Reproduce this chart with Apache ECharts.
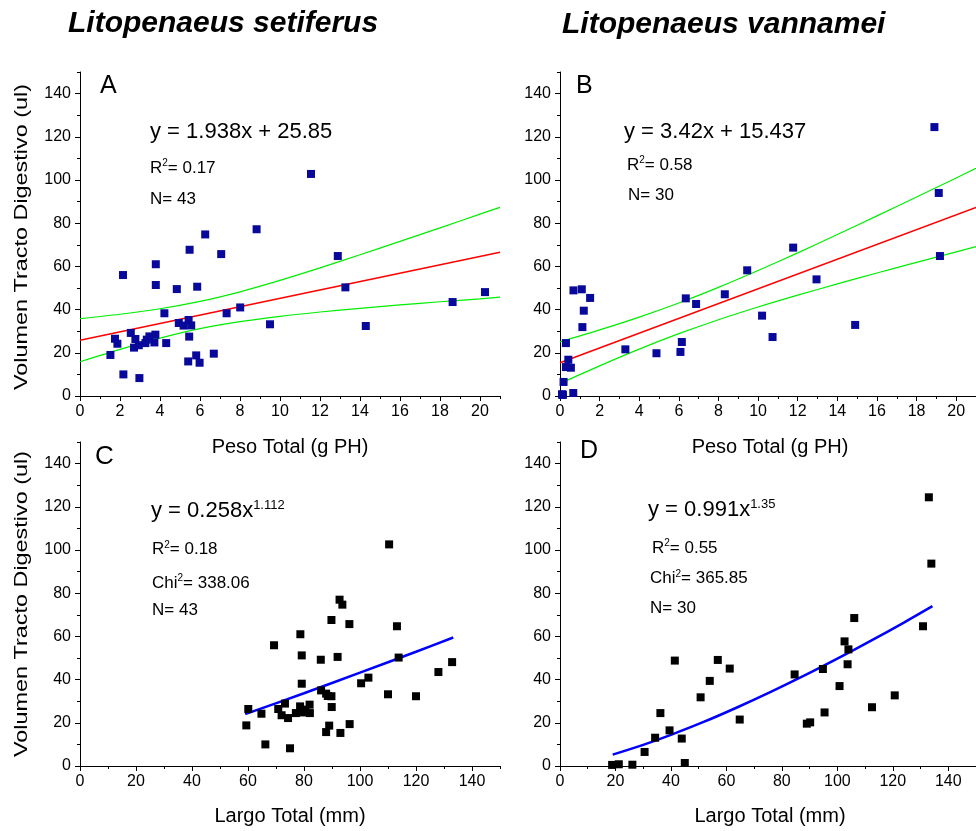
<!DOCTYPE html>
<html>
<head>
<meta charset="utf-8">
<script src="https://cdn.jsdelivr.net/npm/echarts@6/dist/echarts.min.js"></script>
<style>html,body{margin:0;padding:0;background:#fff}#c{width:976px;height:831px}</style>
</head>
<body>
<div id="c"></div>
<script>
// ---------- data ----------
// Panel A: L. setiferus, Peso Total (g PH) vs Volumen (ul)
const aX = [1.52,1.75,1.87,2.15,2.17,2.54,2.70,2.77,2.94,2.97,3.27,3.34,3.47,3.72,3.77,3.79,3.79,4.22,4.31,4.84,4.94,5.18,5.43,5.56,5.46,5.41,5.48,5.81,5.86,5.98,6.26,6.69,7.06,7.33,8.01,8.83,9.50,11.55,12.89,13.27,14.29,18.63,20.25];
const aY = [19.0,26.5,24.2,56.0,10.0,29.2,22.4,26.4,23.5,8.3,24.5,26.1,27.6,24.8,28.4,61.0,51.4,38.3,24.5,49.5,33.8,32.6,35.2,32.7,27.5,16.0,67.7,18.8,50.6,15.4,74.8,19.6,65.7,38.3,41.0,77.2,33.2,102.8,64.8,50.3,32.4,43.5,48.1];
const aFitX = [0,21];
const aFitY = [25.85,66.55];
const aBandX = [0,2,4,6,8,10,12,14,16,18,20,21];
const aUpper = [35.85,37.86,40.39,43.8,48.24,53.53,59.3,65.38,71.56,77.83,84.2,87.35];
const aLower = [15.85,21.6,26.8,31.2,34.46,36.9,38.9,40.58,42.16,43.63,45.0,45.75];

// Panel B: L. vannamei, Peso Total (g PH) vs Volumen (ul)
const bX = [0.10,0.12,0.15,0.18,0.30,0.42,0.30,0.55,0.67,0.68,1.10,1.20,1.13,1.52,3.30,4.87,6.08,6.15,6.35,6.87,8.32,9.45,10.20,10.73,11.77,12.95,14.90,18.90,19.12,19.18];
const bY = [0.8,0.5,0.6,6.5,24.5,16.8,13.4,13.1,1.4,48.9,49.4,39.5,31.9,45.4,21.6,19.8,20.4,25.0,45.2,42.6,47.1,58.2,37.2,27.3,68.7,54.0,32.9,124.5,94.0,64.8];
const bFitX = [0,21];
const bFitY = [15.44,87.26];
const bBandX = [0,2,4,6,8,10,12,14,16,18,20,21];
const bUpper = [25.09,30.6,36.54,43.07,50.28,58.07,66.28,74.75,83.39,92.14,100.96,105.39];
const bLower = [5.79,13.96,21.7,28.85,35.32,41.21,46.68,51.89,56.93,61.86,66.72,69.13];

// Panel C: L. setiferus, Largo Total (mm) vs Volumen (ul)
const cX = [59.4,60.1,64.8,66.2,69.3,70.8,72.0,73.2,74.3,75.0,77.1,78.6,78.7,79.2,79.2,79.3,80.5,82.0,82.1,86.0,86.1,87.9,87.9,88.5,89.0,89.8,89.8,89.9,92.0,92.7,93.7,93.0,96.2,96.3,100.4,103.0,110.0,110.4,113.2,113.8,120.0,128.0,132.9];
const cY = [18.8,26.4,24.2,10.0,55.9,26.4,23.5,28.9,22.2,8.2,24.5,27.6,61.0,51.2,38.1,24.8,26.1,28.4,24.5,49.2,35.0,33.5,15.7,32.4,18.7,67.6,32.3,27.3,50.5,77.0,74.7,15.3,65.7,19.4,38.3,40.9,33.2,102.6,64.7,50.2,32.3,43.5,48.1];
const cFitX = [59,80,100,120,133.3];
const cFitY = [24.0,33.7,43.2,52.9,59.5];

// Panel D: L. vannamei, Largo Total (mm) vs Volumen (ul)
const dX = [18.8,21.2,26.1,30.5,34.3,36.2,39.5,41.4,43.9,45.0,50.7,54.0,56.9,61.2,64.8,84.6,89.0,90.2,94.8,95.4,100.8,102.6,104.0,103.7,106.1,112.5,120.7,130.9,133.0,133.9];
const dY = [0.5,0.8,0.6,6.5,13.1,24.5,16.5,48.8,12.7,1.4,31.8,39.4,49.1,45.1,21.5,42.4,19.6,20.2,44.9,24.8,37.0,57.7,54.0,47.1,68.5,27.2,32.7,64.7,124.4,93.7];
const dFitX = [19,30,40,52,64,76,88,100,112,124,134.3];
const dFitY = [5.27,9.78,14.42,20.5,27.2,34.3,41.8,49.7,57.9,66.4,74.0];

// tick labels
const weightTicks = [0,2,4,6,8,10,12,14,16,18,20];
const weightMinor = [1,3,5,7,9,11,13,15,17,19,21];
const lengthTicks = [0,20,40,60,80,100,120,140];
const lengthMinor = [10,30,50,70,90,110,130,150];
const volTicks = [0,20,40,60,80,100,120,140];
const volMinor = [10,30,50,70,90,110,130,150];

// ---------- chart ----------
const FONT = 'Liberation Sans, Arial, sans-serif';
const zip = (xs, ys) => xs.map((x, i) => [x, ys[i]]);
const chart = echarts.init(document.getElementById('c'), null, {renderer: 'canvas'});

const rects = [
  {left: 80, top: 72, width: 420, height: 324},
  {left: 560, top: 72, width: 420, height: 324},
  {left: 80, top: 442, width: 420, height: 324},
  {left: 560, top: 442, width: 420, height: 324}
];
const grids = rects.concat(rects).map(r => Object.assign({containLabel: false}, r));
const xMax = [21, 21, 150, 150];
const xMajor = [weightTicks, weightTicks, lengthTicks, lengthTicks];
const xMinor = [weightMinor, weightMinor, lengthMinor, lengthMinor];

const xAxes = [], yAxes = [];
for (let i = 0; i < 4; i++) {
  xAxes.push({
    gridIndex: i, type: 'value', min: 0, max: xMax[i],
    axisLine: {show: true, onZero: false, lineStyle: {color: '#000', width: 1}},
    axisTick: {show: true, customValues: xMajor[i], length: 5, lineStyle: {color: '#000'}},
    axisLabel: {show: true, customValues: xMajor[i], fontSize: 16, color: '#000', fontFamily: FONT, margin: 8},
    splitLine: {show: false}
  });
  yAxes.push({
    gridIndex: i, type: 'value', min: 0, max: 150,
    axisLine: {show: true, onZero: false, lineStyle: {color: '#000', width: 1}},
    axisTick: {show: true, customValues: volTicks, length: 5, lineStyle: {color: '#000'}},
    axisLabel: {show: true, customValues: volTicks, fontSize: 16, color: '#000', fontFamily: FONT, margin: 9},
    splitLine: {show: false}
  });
}
for (let i = 0; i < 4; i++) {
  xAxes.push({
    gridIndex: i + 4, type: 'value', min: 0, max: xMax[i],
    axisLine: {show: false},
    axisTick: {show: true, customValues: xMinor[i], length: 3, lineStyle: {color: '#000'}},
    axisLabel: {show: false}, splitLine: {show: false}
  });
  yAxes.push({
    gridIndex: i + 4, type: 'value', min: 0, max: 150,
    axisLine: {show: false},
    axisTick: {show: true, customValues: volMinor, length: 3, lineStyle: {color: '#000'}},
    axisLabel: {show: false}, splitLine: {show: false}
  });
}

function line(idx, xs, ys, color, width, smooth) {
  return {type: 'line', xAxisIndex: idx, yAxisIndex: idx, data: zip(xs, ys), symbol: 'none',
    smooth: smooth ? 0.3 : false, lineStyle: {color: color, width: width}, silent: true, z: 2, clip: true};
}
function scat(idx, xs, ys, color) {
  return {type: 'scatter', xAxisIndex: idx, yAxisIndex: idx, data: zip(xs, ys), symbol: 'rect',
    symbolSize: 8, itemStyle: {color: color, opacity: 1}, silent: true, z: 3, clip: false};
}
const NAVY = '#08089a';
const series = [
  line(0, aBandX, aUpper, '#00ee00', 1.2, true),
  line(0, aBandX, aLower, '#00ee00', 1.2, true),
  line(0, aFitX, aFitY, '#ff0000', 1.6, false),
  scat(0, aX, aY, NAVY),
  line(1, bBandX, bUpper, '#00ee00', 1.2, true),
  line(1, bBandX, bLower, '#00ee00', 1.2, true),
  line(1, bFitX, bFitY, '#ff0000', 1.6, false),
  scat(1, bX, bY, NAVY),
  scat(2, cX, cY, '#000000'),
  line(2, cFitX, cFitY, '#0000ff', 2.5, true),
  scat(3, dX, dY, '#000000'),
  line(3, dFitX, dFitY, '#0000ff', 2.5, true)
];

function txt(x, y, text, size) {
  return {type: 'text', x: x, y: y, silent: true, z: 100,
    style: {text: text, fontSize: size, fontFamily: FONT, fill: '#000',
      align: 'left', verticalAlign: 'middle', textAlign: 'left', textVerticalAlign: 'middle'}};
}
function sup(x, y, text, size, supSize) {
  return {type: 'text', x: x, y: y, silent: true, z: 100,
    style: {text: text, fontSize: size, fontFamily: FONT, fill: '#000', align: 'left', verticalAlign: 'middle',
      textAlign: 'left', textVerticalAlign: 'middle',
      rich: {
        b: {fontSize: size, fontFamily: FONT, fill: '#000', lineHeight: size + 2},
        s: {fontSize: supSize, fontFamily: FONT, fill: '#000', verticalAlign: 'top', lineHeight: supSize + 1}
      }}};
}
function yname(x, y) {
  return {type: 'text', x: x, y: y, rotation: Math.PI / 2, scaleX: 1.3, silent: true, z: 100,
    style: {text: 'Volumen Tracto Digestivo (ul)', fontSize: 18, fontFamily: FONT, fill: '#000',
      align: 'center', verticalAlign: 'middle', textAlign: 'center', textVerticalAlign: 'middle'}};
}
function xname(x, y, t) {
  return {type: 'text', x: x, y: y, silent: true, z: 100,
    style: {text: t, fontSize: 20, fontFamily: FONT, fill: '#000',
      align: 'center', verticalAlign: 'middle', textAlign: 'center', textVerticalAlign: 'middle'}};
}
function title(x, y, t) {
  return {type: 'text', x: x, y: y, silent: true, z: 100,
    style: {text: t, fontSize: 30, fontWeight: 'bold', fontStyle: 'italic', fontFamily: FONT, fill: '#000',
      align: 'left', verticalAlign: 'middle', textAlign: 'left', textVerticalAlign: 'middle'}};
}

const graphic = [
  title(68, 24, 'Litopenaeus setiferus'),
  title(562, 25, 'Litopenaeus vannamei'),
  yname(22, 237),
  yname(22, 604),
  xname(290, 447, 'Peso Total (g PH)'),
  xname(770, 447, 'Peso Total (g PH)'),
  xname(290, 816, 'Largo Total (mm)'),
  xname(770, 816, 'Largo Total (mm)'),
  txt(100, 86, 'A', 25),
  txt(576, 86, 'B', 25),
  txt(95, 457, 'C', 26),
  txt(580, 451, 'D', 25),
  // panel A
  txt(150, 132, 'y = 1.938x + 25.85', 22),
  sup(150, 168, '{b|R}{s|2}{b|= 0.17}', 17, 10),
  txt(150, 199.5, 'N= 43', 17),
  // panel B
  txt(624, 132, 'y = 3.42x + 15.437', 22),
  sup(627, 165, '{b|R}{s|2}{b|= 0.58}', 17, 10),
  txt(628, 195, 'N= 30', 17),
  // panel C
  sup(151, 511, '{b|y = 0.258x}{s|1.112}', 22, 13),
  sup(152, 549.5, '{b|R}{s|2}{b|= 0.18}', 17, 10),
  sup(152, 583, '{b|Chi}{s|2}{b|= 338.06}', 17, 10),
  txt(152, 610.5, 'N= 43', 17),
  // panel D
  sup(648, 510, '{b|y = 0.991x}{s|1.35}', 22, 13),
  sup(652, 548, '{b|R}{s|2}{b|= 0.55}', 17, 10),
  sup(650, 578.5, '{b|Chi}{s|2}{b|= 365.85}', 17, 10),
  txt(650, 608, 'N= 30', 17)
];

chart.setOption({
  animation: false,
  backgroundColor: '#fff',
  grid: grids,
  xAxis: xAxes,
  yAxis: yAxes,
  series: series,
  graphic: graphic
});
</script>
</body>
</html>
